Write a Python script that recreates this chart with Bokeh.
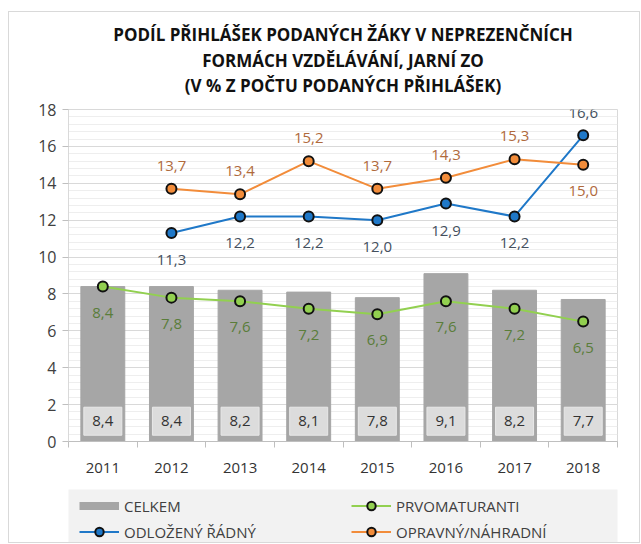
from bokeh.plotting import figure
from bokeh.layouts import column
from bokeh.models import (ColumnDataSource, Range1d, FixedTicker, SingleIntervalTicker,
                          Legend, LegendItem, Title)
from bokeh.embed import file_html
from bokeh.resources import INLINE
from bokeh.core.properties import value

# ---- data ----
years = [2011, 2012, 2013, 2014, 2015, 2016, 2017, 2018]
celkem = [8.4, 8.4, 8.2, 8.1, 7.8, 9.1, 8.2, 7.7]
prvomaturanti = [8.4, 7.8, 7.6, 7.2, 6.9, 7.6, 7.2, 6.5]
odlozeny_years = [2012, 2013, 2014, 2015, 2016, 2017, 2018]
odlozeny = [11.3, 12.2, 12.2, 12.0, 12.9, 12.2, 16.6]
opravny_years = [2012, 2013, 2014, 2015, 2016, 2017, 2018]
opravny = [13.7, 13.4, 15.2, 13.7, 14.3, 15.3, 15.0]
title_lines = ["PODÍL PŘIHLÁŠEK PODANÝCH ŽÁKY V NEPREZENČNÍCH",
               "FORMÁCH VZDĚLÁVÁNÍ, JARNÍ ZO",
               "(V % Z POČTU PODANÝCH PŘIHLÁŠEK)"]
legend_labels = ["CELKEM", "PRVOMATURANTI", "ODLOŽENÝ ŘÁDNÝ", "OPRAVNÝ/NÁHRADNÍ"]

def fmt(v):
    return f"{v:.1f}".replace(".", ",")

FONT = "Open Sans"
GREY = "#a6a6a6"
GREEN = "#92d050"
BLUE = "#1f78c8"
ORANGE = "#f28c3a"
BOX_Y = 1.1  # vertical position of the value boxes inside bars

p = figure(width=630, height=469, output_backend="svg", toolbar_location=None,
           x_range=Range1d(years[0] - 0.5, years[-1] + 0.5), y_range=Range1d(0, 18),
           min_border_left=59, min_border_right=22, min_border_top=97, min_border_bottom=40)

def style_title(t, standoff, size="17px"):
    t.align = "center"
    t.text_font = FONT
    t.text_font_size = size
    t.text_font_style = "bold"
    t.text_color = "#111111"
    t.text_line_height = 1.0
    t.standoff = standoff

# p.title is always the outermost one; added titles stack outward from the frame
p.title.text = title_lines[0]
style_title(p.title, 2)
spacer = Title(text=" ")
style_title(spacer, 10, "1px")
p.add_layout(spacer, "above")
t3 = Title(text=title_lines[2])
style_title(t3, 0)
p.add_layout(t3, "above")
t2 = Title(text=title_lines[1])
style_title(t2, 0)
p.add_layout(t2, "above")

p.outline_line_color = "#d9d9d9"
p.background_fill_color = "white"

# axes
boundaries = [y - 0.5 for y in years] + [years[-1] + 0.5]
p.xaxis.ticker = FixedTicker(ticks=years, minor_ticks=boundaries)
p.xaxis.major_tick_line_color = None
p.xaxis.minor_tick_line_color = "#bfbfbf"
p.xaxis.minor_tick_out = 6
p.xaxis.minor_tick_in = 0
p.xaxis.axis_line_color = "#bfbfbf"
p.xaxis.major_label_text_font = FONT
p.xaxis.major_label_text_font_size = "15px"
p.xaxis.major_label_text_color = "#333333"
p.xaxis.major_label_standoff = 15

p.yaxis.ticker = SingleIntervalTicker(interval=2, num_minor_ticks=5)
p.yaxis.axis_line_color = "#d9d9d9"
p.yaxis.major_tick_line_color = "#bfbfbf"
p.yaxis.major_tick_out = 6
p.yaxis.major_tick_in = 0
p.yaxis.minor_tick_line_color = None
p.yaxis.major_label_text_font = FONT
p.yaxis.major_label_text_font_size = "16px"
p.yaxis.major_label_text_color = "#404040"
p.yaxis.major_label_standoff = 6

p.xgrid.grid_line_color = None
p.ygrid.grid_line_color = "#d9d9d9"
p.ygrid.minor_grid_line_color = "#eeeeee"

# bars
bar_src = ColumnDataSource(dict(x=years, top=celkem, txt=[fmt(v) for v in celkem]))
p.vbar(x="x", top="top", width=0.64, source=bar_src, color=GREY)
p.rect(x="x", y=BOX_Y, width=38, height=28, width_units="screen", height_units="screen",
       source=bar_src, fill_color="#dcdcdc", line_color="#e8e8e8")
p.text(x="x", y=BOX_Y, text="txt", source=bar_src, text_align="center",
       text_baseline="middle", text_font=value(FONT),
       text_font_size="15px", text_color="#333333")

# lines
sources = {}
def series(key, xs, ys, color, label_color, offsets):
    src = ColumnDataSource(dict(x=xs, y=ys, txt=[fmt(v) for v in ys], off=offsets))
    sources[key] = src
    p.line("x", "y", source=src, line_color=color, line_width=2)
    p.scatter("x", "y", source=src, size=10, fill_color=color, line_color="#111111",
              line_width=2)
    p.text(x="x", y="y", text="txt", source=src, y_offset="off", text_align="center",
           text_baseline="middle", text_font=value(FONT), text_font_size="15px",
           text_color=label_color)

series("g", years, prvomaturanti, GREEN, "#5a7d3a", [26] * len(years))
b_off = [27] * len(odlozeny)
b_off[-1] = -22
series("b", odlozeny_years, odlozeny, BLUE, "#44505e", b_off)
o_off = [-23] * len(opravny)
o_off[-1] = 26
series("o", opravny_years, opravny, ORANGE, "#b06a3c", o_off)

# ---- legend panel: a strip below the chart whose frame lines up with the chart frame;
# its renderers use the same data, which lies outside this strip's 0..1 ranges ----
lf = figure(width=630, height=53, output_backend="svg", toolbar_location=None,
            x_axis_type=None, y_axis_type=None,
            min_border_left=59, min_border_right=22, min_border_top=0, min_border_bottom=0,
            x_range=Range1d(0, 1), y_range=Range1d(0, 1))
lf.title.visible = False
lf.grid.visible = False
lf.outline_line_color = None
lf.background_fill_color = "#f2f2f2"
lf.border_fill_color = "white"

def key_renderers(src, ycol, color, marker=True, width=2):
    rs = [lf.line(x="x", y=ycol, source=src, line_color=color, line_width=width)]
    if marker:
        rs.append(lf.scatter(x="x", y=ycol, source=src, size=9, fill_color=color,
                             line_color="#111111", line_width=2))
    return rs

legend = Legend(items=[
    LegendItem(label=legend_labels[0],
               renderers=key_renderers(bar_src, "top", GREY, marker=False, width=8)),
    LegendItem(label=legend_labels[1], renderers=key_renderers(sources["g"], "y", GREEN)),
    LegendItem(label=legend_labels[2], renderers=key_renderers(sources["b"], "y", BLUE)),
    LegendItem(label=legend_labels[3], renderers=key_renderers(sources["o"], "y", ORANGE)),
], orientation="horizontal", ncols=2, location=(11, 0))
legend.background_fill_alpha = 0
legend.border_line_color = None
legend.label_text_font = FONT
legend.label_text_font_size = "15px"
legend.label_text_color = "#404040"
legend.label_width = 222
legend.label_height = 21
legend.glyph_width = 40
legend.glyph_height = 21
legend.spacing = 5
legend.padding = 3
legend.margin = 0
legend.label_standoff = 5
lf.add_layout(legend, "center")
lf.margin = (8, 0, 0, 0)

page = column(p, lf)
page.margin = (11, 0, 0, 8)
page.styles = {"border": "1px solid #d9d9d9"}

open("out.html", "w").write(file_html(page, INLINE))
